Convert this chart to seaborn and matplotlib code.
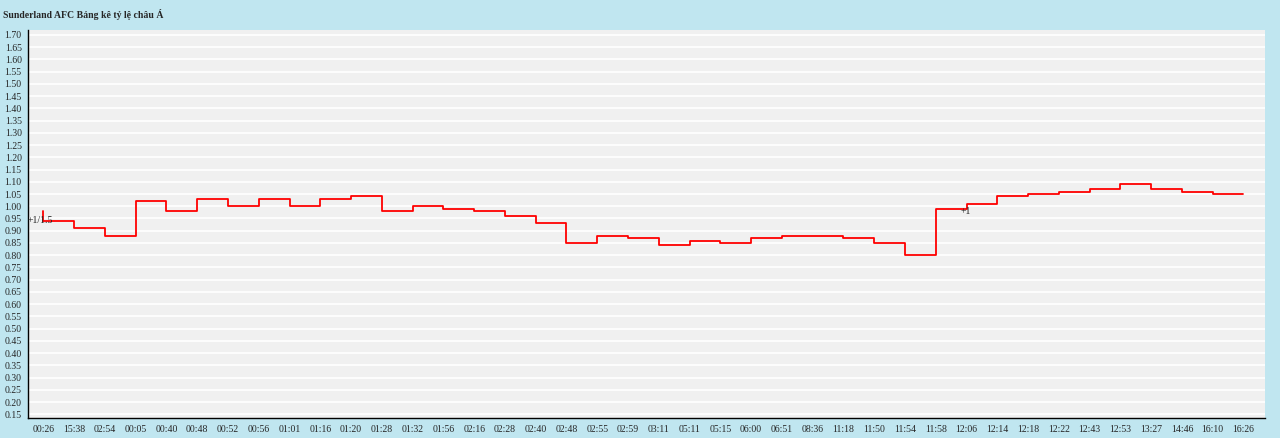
import matplotlib
matplotlib.use('Agg')
import matplotlib.pyplot as plt
import seaborn as sns
import numpy as np
import pandas as pd

times = ['00:26', '15:38', '02:54', '00:05', '00:40', '00:48', '00:52', '00:56', '01:01', '01:16',
         '01:20', '01:28', '01:32', '01:56', '02:16', '02:28', '02:40', '02:48', '02:55', '02:59',
         '03:11', '05:11', '05:15', '06:00', '06:51', '08:36', '11:18', '11:50', '11:54', '11:58',
         '12:06', '12:14', '12:18', '12:22', '12:43', '12:53', '13:27', '14:46', '16:10', '16:26']
odds = [0.94, 0.91, 0.88, 1.02, 0.98, 1.03, 1.00, 1.03, 1.00, 1.03,
        1.04, 0.98, 1.00, 0.99, 0.98, 0.96, 0.93, 0.85, 0.88, 0.87,
        0.84, 0.86, 0.85, 0.87, 0.88, 0.88, 0.87, 0.85, 0.80, 0.99,
        1.01, 1.04, 1.05, 1.06, 1.07, 1.09, 1.07, 1.06, 1.05, 1.05]
start_odds = 0.98
handicap_labels = {0: '+1/1.5', 30: '+1'}

df = pd.DataFrame({'pos': np.arange(len(times)), 'odds': odds})

sns.set_style('white')
plt.rcParams['font.family'] = ['Liberation Serif', 'DejaVu Serif']

fig = plt.figure(figsize=(12.8, 4.38), dpi=100)
fig.patch.set_facecolor('#c0e6f0')
ax = fig.add_axes([28 / 1280, 20 / 438, 1237 / 1280, 388 / 438])
ax.set_facecolor('#f0f0f0')

ax.plot([0, 0], [start_odds, odds[0]], color='red', lw=1.3)
sns.lineplot(data=df, x='pos', y='odds', drawstyle='steps-post', color='red', lw=1.3, ax=ax)

for i, lab in handicap_labels.items():
    ax.text(i - 0.5 if i == 0 else i - 0.2, odds[i] - (0.0 if i == 0 else 0.03), lab,
            fontsize=7, va='center', ha='left', color='#222222')

yt = np.round(np.arange(0.15, 1.701, 0.05), 2)
ax.set_yticks(yt)
ax.set_yticklabels([f'{v:.2f}' for v in yt], fontsize=7)
ax.set_ylim(0.135, 1.72)
ax.set_xticks(df['pos'])
ax.set_xticklabels(times, fontsize=7)
ax.set_xlim(-0.5, len(times) - 0.3)
ax.grid(axis='y', color='white', lw=1.2)
ax.tick_params(axis='both', length=3, width=1, color='black', direction='out', pad=2)
ax.tick_params(axis='y', direction='inout', length=5)
for s in ['top', 'right']:
    ax.spines[s].set_visible(False)
for s in ['left', 'bottom']:
    ax.spines[s].set_color('black')
    ax.spines[s].set_linewidth(1)
ax.set_xlabel('')
ax.set_ylabel('')

fig.text(3 / 1280, 1 - 14 / 438, 'Sunderland AFC Bảng kê tỷ lệ châu Á', fontsize=7,
         fontweight='bold', va='center', ha='left')

fig.savefig('out.png', dpi=100, facecolor=fig.get_facecolor())
